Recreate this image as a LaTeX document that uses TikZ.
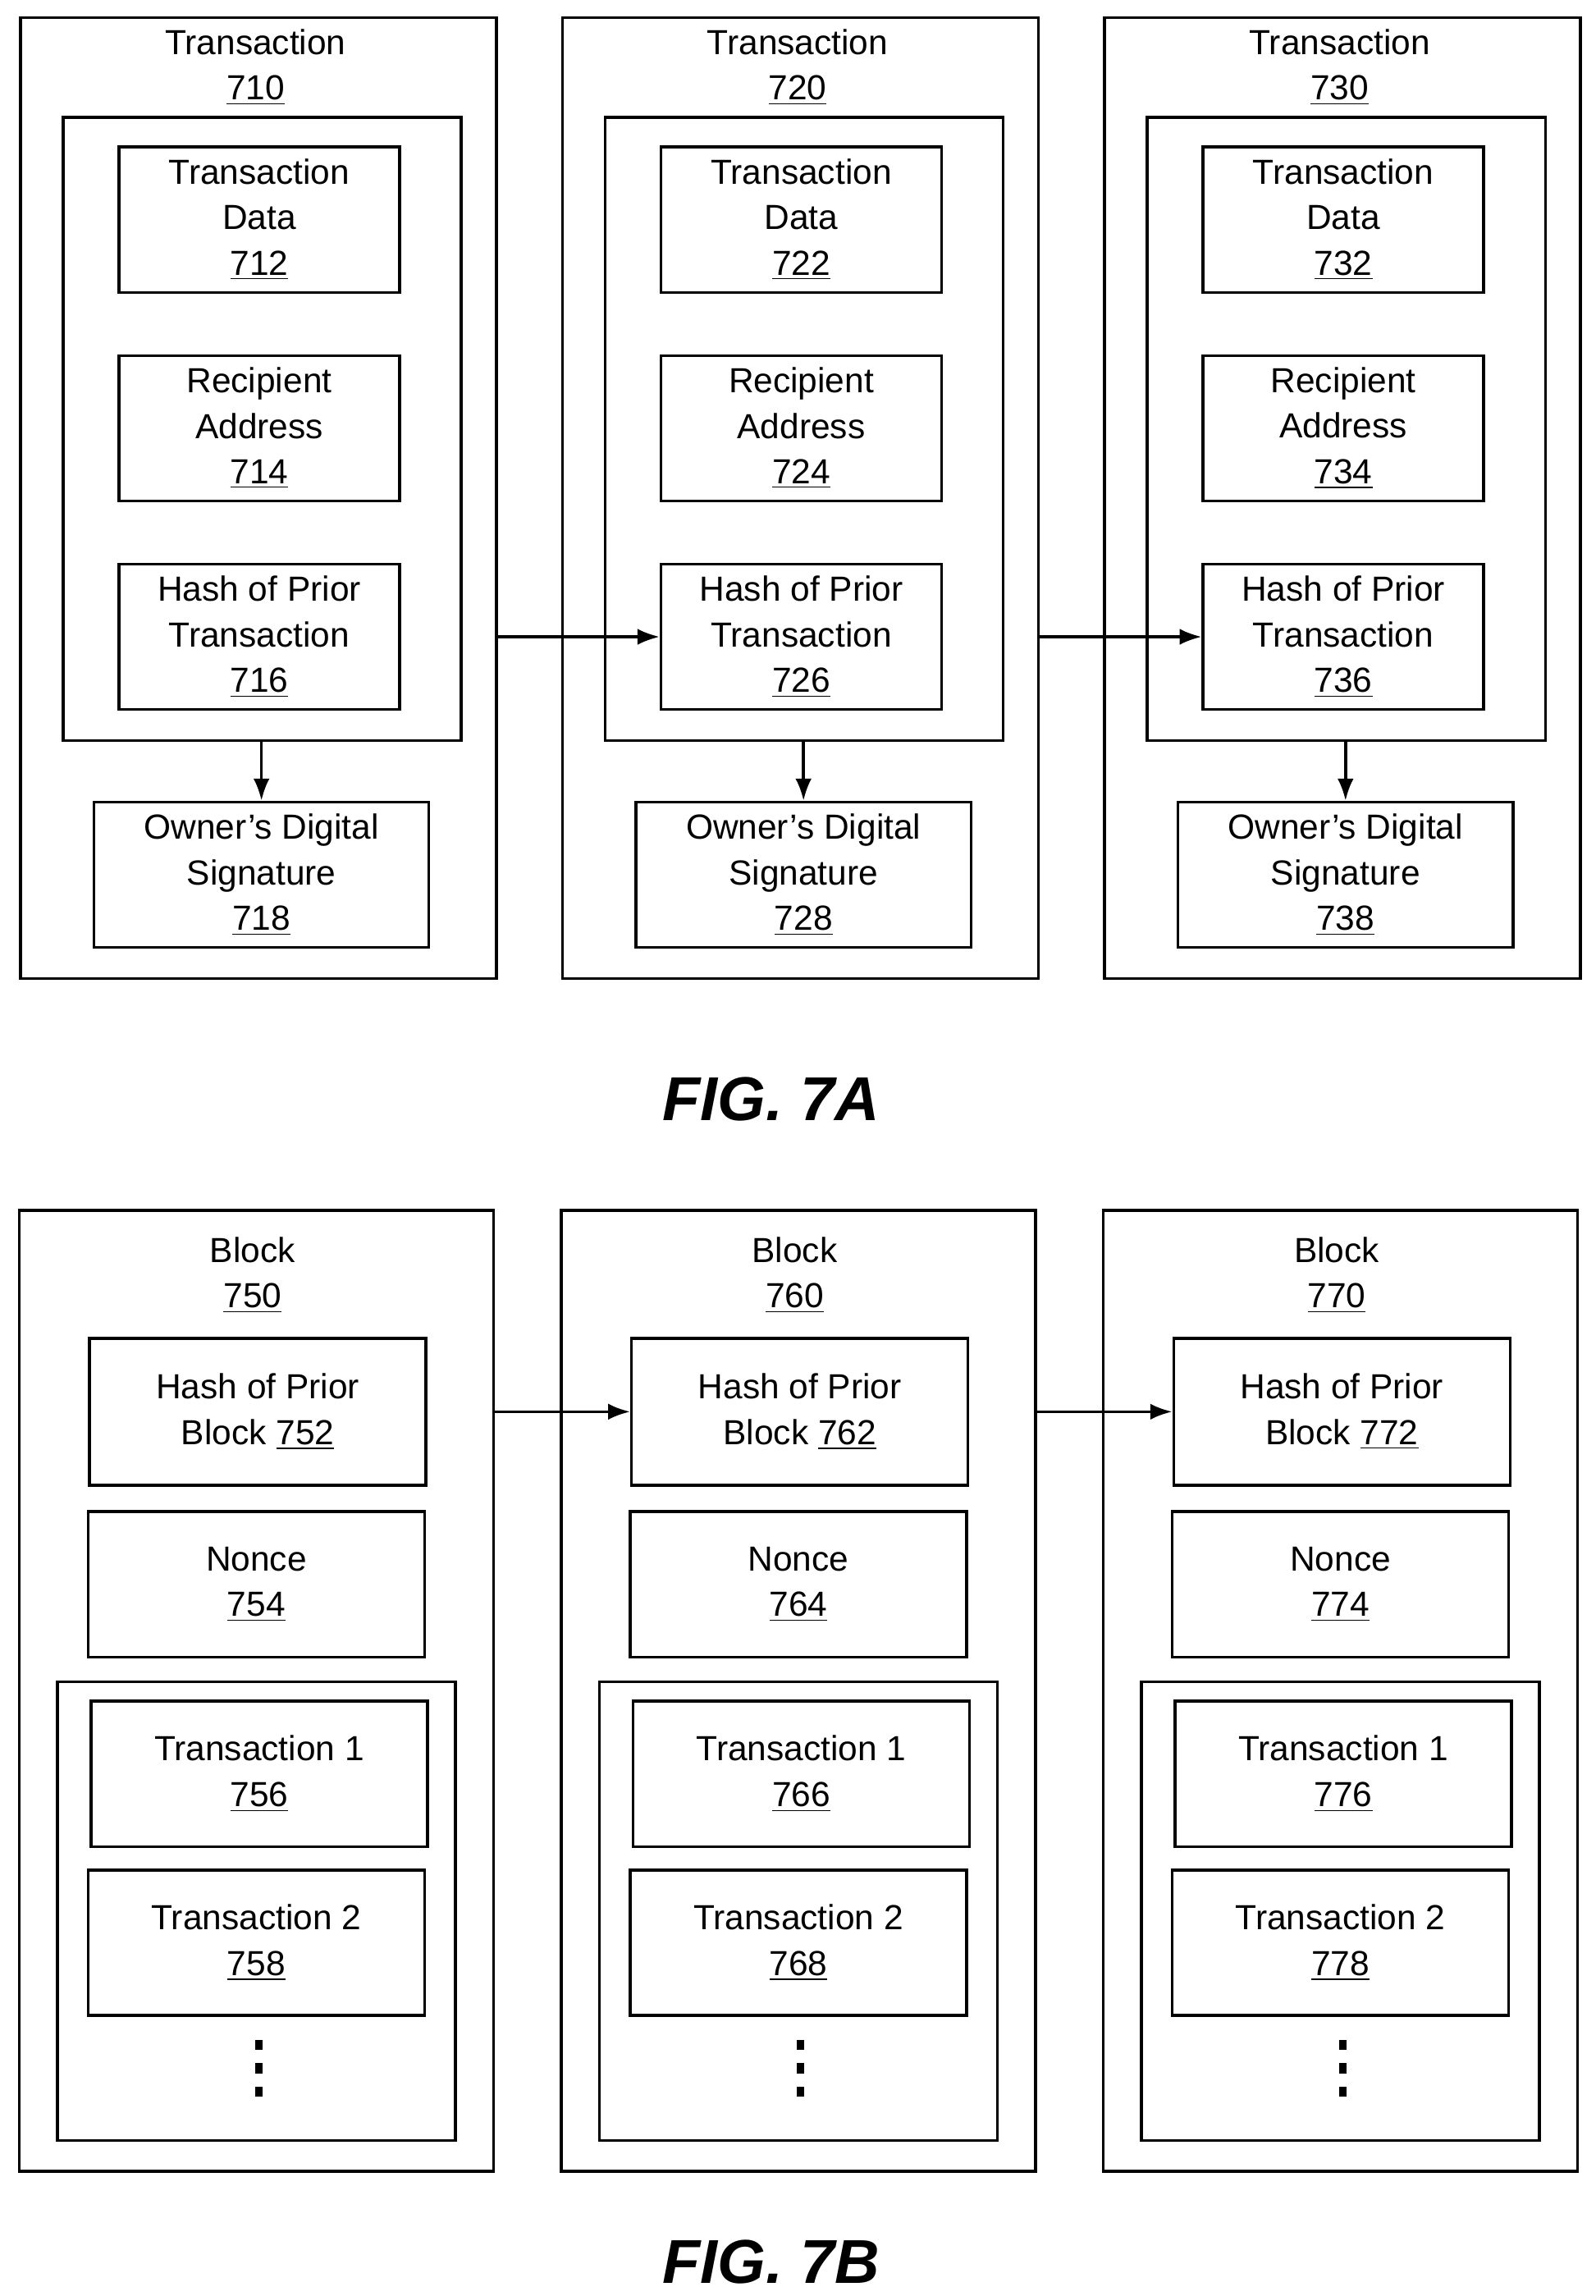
\documentclass[tikz,border=0pt]{standalone}
\usepackage{fontspec}
\setmainfont{Liberation Sans}
\usetikzlibrary{arrows.meta}
\tikzset{
  box/.style={draw,line width=1.1pt,rectangle,inner sep=0pt,align=center,
    font=\fontsize{13.5}{17.6}\selectfont},
  func/.style={-{Latex[length=0.3cm,width=0.22cm]},line width=1.1pt},
  dot/.style={rectangle,fill,inner sep=0pt,minimum width=0.1cm,minimum height=0.14cm},
  fig/.style={font=\fontsize{24}{28}\selectfont\bfseries\itshape},
}
\begin{document}
\begin{tikzpicture}[x=0.02cm,y=-0.02cm]
  \useasboundingbox (0,0) rectangle (1086,1563);
  % FIG. 7A
  \foreach \i/\a in {0/1,1/2,2/3}
  {
    \begin{scope}[xshift=\i*369*0.02cm]
      \node [box,minimum width=324*0.02cm,minimum height=654*0.02cm] (tx\a) at (176,339) {};
      \node [box,draw=none,anchor=north] (txl\a) at (174,19) {Transaction\\\underline{7\a0}};
      \node [box,minimum width=271*0.02cm,minimum height=424*0.02cm] (in\a) at (178.5,292) {};
      \node [box,minimum width=191*0.02cm,minimum height=99*0.02cm] (td\a) at (176.5,149.5) {Transaction\\Data\\\underline{7\a2}};
      \node [box,minimum width=191*0.02cm,minimum height=99*0.02cm] (ra\a) at (176.5,291.5) {Recipient\\Address\\\underline{7\a4}};
      \node [box,minimum width=191*0.02cm,minimum height=99*0.02cm] (hp\a) at (176.5,433.5) {Hash of Prior\\Transaction\\\underline{7\a6}};
      \node [box,minimum width=228*0.02cm,minimum height=99*0.02cm] (sg\a) at (178,595.5) {Owner’s Digital\\Signature\\\underline{7\a8}};
      \draw [func] (in\a.south -| sg\a) -- (sg\a);
    \end{scope}
  }
  \draw [func] (tx1.east |- hp2) -- (hp2.west);
  \draw [func] (tx2.east |- hp3) -- (hp3.west);
  \node [fig] (fa) at (525,748) {FIG. 7A};
  % FIG. 7B
  \foreach \i/\b in {0/5,1/6,2/7}
  {
    \begin{scope}[xshift=\i*369*0.02cm]
      \node [box,minimum width=323*0.02cm,minimum height=654*0.02cm] (bk\b) at (174.5,1151) {};
      \node [box,draw=none,anchor=north] (bkl\b) at (172,841) {Block\\\underline{7\b0}};
      \node [box,minimum width=229*0.02cm,minimum height=100*0.02cm] (hb\b) at (175.5,961) {Hash of Prior\\Block \underline{7\b2}};
      \node [box,minimum width=229*0.02cm,minimum height=99*0.02cm] (nc\b) at (174.5,1078.5) {Nonce\\\underline{7\b4}};
      \node [box,minimum width=271*0.02cm,minimum height=312*0.02cm] (tl\b) at (174.5,1301) {};
      \node [box,minimum width=229*0.02cm,minimum height=99*0.02cm] (ta\b) at (176.5,1207.5) {Transaction 1\\\underline{7\b6}};
      \node [box,minimum width=229*0.02cm,minimum height=99*0.02cm] (tb\b) at (174.5,1322.5) {Transaction 2\\\underline{7\b8}};
      \foreach \y in {1392,1408,1424}
        \node [dot] (dt\b\y) at (176,\y) {};
    \end{scope}
  }
  \draw [func] (bk5.east |- hb6) -- (hb6.west);
  \draw [func] (bk6.east |- hb7) -- (hb7.west);
  \node [fig] (fb) at (525,1540) {FIG. 7B};
\end{tikzpicture}
\end{document}
